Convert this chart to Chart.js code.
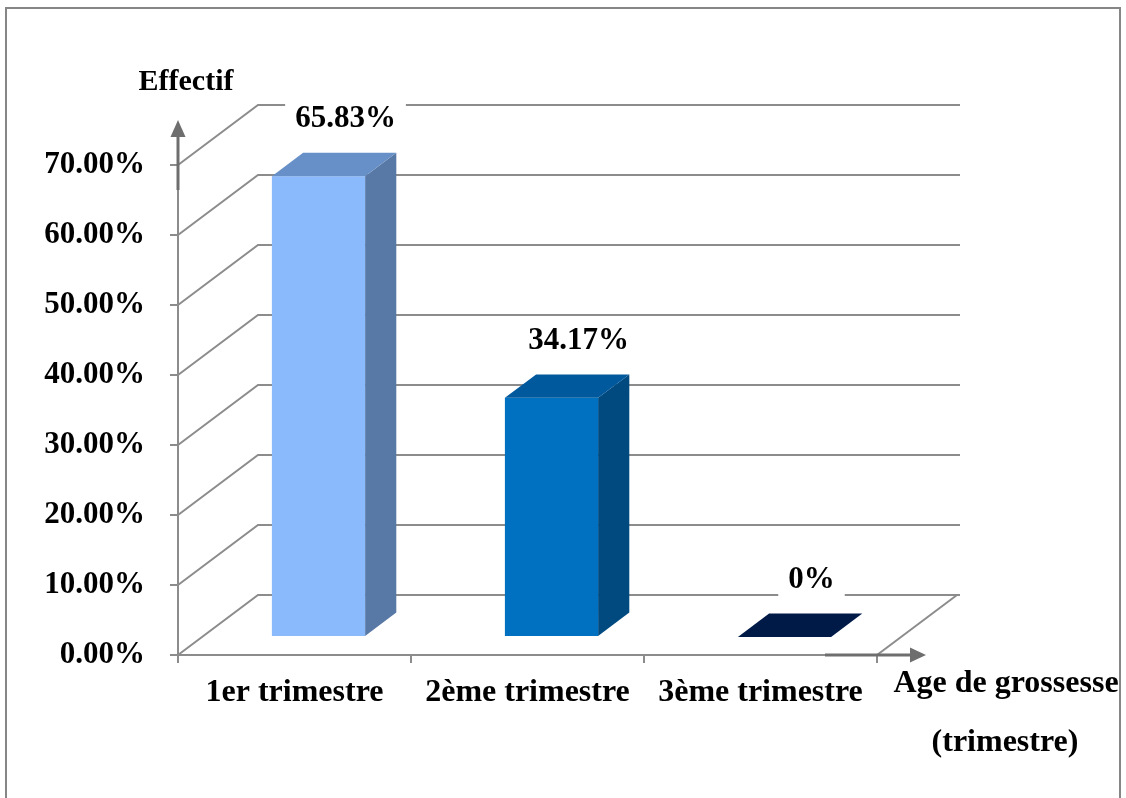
<!DOCTYPE html>
<html>
<head>
<meta charset="utf-8">
<script src="https://cdn.jsdelivr.net/npm/chart.js@4.4.1/dist/chart.umd.min.js"></script>
<style>
  html, body { margin: 0; padding: 0; background: #fff; }
  canvas { display: block; }
</style>
</head>
<body>
<canvas id="result" width="1126" height="798"></canvas>
<script>
"use strict";
// data
const categories = ["1er trimestre", "2ème trimestre", "3ème trimestre"];
const values = [65.83, 34.17, 0];
const valueLabels = ["65.83%", "34.17%", "0%"];
const yMin = 0;
const yMax = 70;
const yStep = 10;

// colours of the 3d faces
const frontColors = ["#8AB9FC", "#0070C0", "#002060"];
const topColors = ["#6690C7", "#00589D", "#001A48"];
const sideColors = ["#5878A6", "#004A80", "#001238"];

const FONT = "'Liberation Serif', 'Times New Roman', serif";
const GRID = "#8c8c8c";
const ARROW = "#6e6e6e";
const DX = 80, DY = -60;        // depth of the floor
const BAR_FRONT = 0.3;          // where the bar front sits in the depth
const BAR_DEPTH = 0.39;         // bar thickness in depth

function poly(ctx, pts, color) {
  ctx.beginPath();
  ctx.moveTo(pts[0][0], pts[0][1]);
  for (let i = 1; i < pts.length; i++) ctx.lineTo(pts[i][0], pts[i][1]);
  ctx.closePath();
  ctx.fillStyle = color;
  ctx.fill();
}

const chart3d = {
  id: "chart3d",
  beforeDraw(chart) {
    const ctx = chart.ctx;
    ctx.save();
    ctx.strokeStyle = "#868686";
    ctx.lineWidth = 2;
    ctx.strokeRect(6, 8, 1114, 800);
    ctx.restore();
  },
  beforeDatasetsDraw(chart) {
    const { ctx, chartArea: a, scales: { y } } = chart;
    ctx.save();
    ctx.strokeStyle = GRID;
    ctx.lineWidth = 2;
    // back wall + left wall lines
    y.ticks.forEach((t) => {
      const py = Math.round(y.getPixelForValue(t.value));
      ctx.beginPath();
      ctx.moveTo(a.left, py);
      ctx.lineTo(a.left + DX, py + DY);
      ctx.lineTo(a.right + DX + 3, py + DY);
      ctx.stroke();
    });
    // floor right edge
    ctx.beginPath();
    ctx.moveTo(a.right, a.bottom);
    ctx.lineTo(a.right + DX, a.bottom + DY);
    ctx.stroke();
    ctx.restore();
  },
  afterDatasetsDraw(chart) {
    const { ctx, chartArea: a } = chart;
    const meta = chart.getDatasetMeta(0);
    const fx = BAR_FRONT * DX, fy = BAR_FRONT * DY;
    const bx = BAR_DEPTH * DX, by = BAR_DEPTH * DY;
    ctx.save();
    meta.data.forEach((bar, i) => {
      const l = bar.x - bar.width / 2 + fx;
      const r = bar.x + bar.width / 2 + fx;
      const t = bar.y + fy;
      const b = bar.base + fy;
      if (b - t > 0.5) {
        poly(ctx, [[r, t], [r + bx, t + by], [r + bx, b + by], [r, b]], sideColors[i]);
        poly(ctx, [[l, t], [r, t], [r, b], [l, b]], frontColors[i]);
      }
      poly(ctx, [[l, t], [l + bx, t + by], [r + bx, t + by], [r, t]], topColors[i]);
    });
    // value labels with white box
    ctx.font = "bold 31px " + FONT;
    ctx.textAlign = "center";
    ctx.textBaseline = "middle";
    meta.data.forEach((bar, i) => {
      const lx = bar.x + 51;
      const ly = bar.y - 75;
      const w = ctx.measureText(valueLabels[i]).width;
      ctx.fillStyle = "#fff";
      ctx.fillRect(lx - w / 2 - 10, ly - 20, w + 20, 40);
      ctx.fillStyle = "#000";
      ctx.fillText(valueLabels[i], lx, ly);
    });
    // axis arrows
    ctx.strokeStyle = ARROW;
    ctx.fillStyle = ARROW;
    ctx.lineWidth = 3;
    ctx.beginPath();
    ctx.moveTo(a.left, a.top + 25);
    ctx.lineTo(a.left, a.top - 28);
    ctx.stroke();
    poly(ctx, [[a.left, a.top - 45], [a.left - 7.5, a.top - 28], [a.left + 7.5, a.top - 28]], ARROW);
    ctx.beginPath();
    ctx.moveTo(a.right - 52, a.bottom);
    ctx.lineTo(a.right + 34, a.bottom);
    ctx.stroke();
    poly(ctx, [[a.right + 49, a.bottom], [a.right + 33, a.bottom - 7.5], [a.right + 33, a.bottom + 7.5]], ARROW);
    ctx.restore();
  },
  afterDraw(chart) {
    const ctx = chart.ctx;
    ctx.save();
    ctx.fillStyle = "#000";
    ctx.textAlign = "center";
    ctx.textBaseline = "middle";
    ctx.font = "bold 30px " + FONT;
    ctx.fillText("Effectif", 186, 82);
    ctx.font = "bold 32px " + FONT;
    ctx.fillText("Age de grossesse", 1006, 684);
    ctx.fillText("(trimestre)", 1005, 743);
    ctx.restore();
  },
};

new Chart("result", {
  type: "bar",
  data: {
    labels: categories,
    datasets: [
      {
        data: values,
        backgroundColor: "rgba(0,0,0,0)",
        borderWidth: 0,
        barPercentage: 0.4,
        categoryPercentage: 1,
      },
    ],
  },
  options: {
    responsive: false,
    animation: false,
    devicePixelRatio: 1,
    layout: { padding: { top: 165, right: 249, left: 0, bottom: 0 } },
    plugins: {
      legend: { display: false },
      tooltip: { enabled: false },
    },
    scales: {
      x: {
        afterFit(scale) { scale.height = 143; },
        grid: { drawOnChartArea: false, tickLength: 8, color: GRID, lineWidth: 2 },
        border: { display: true, color: GRID, width: 2 },
        ticks: {
          padding: 11,
          color: "#000",
          font: { family: FONT, size: 32, weight: "bold" },
          maxRotation: 0,
        },
      },
      y: {
        min: yMin,
        max: yMax,
        afterFit(scale) { scale.width = 178; },
        grid: { drawOnChartArea: false, tickLength: 8, color: GRID, lineWidth: 2 },
        border: { display: true, color: GRID, width: 2 },
        ticks: {
          stepSize: yStep,
          padding: 25,
          color: "#000",
          font: { family: FONT, size: 31, weight: "bold" },
          callback: (v) => v.toFixed(2) + "%",
        },
      },
    },
  },
  plugins: [chart3d],
});
</script>
</body>
</html>
